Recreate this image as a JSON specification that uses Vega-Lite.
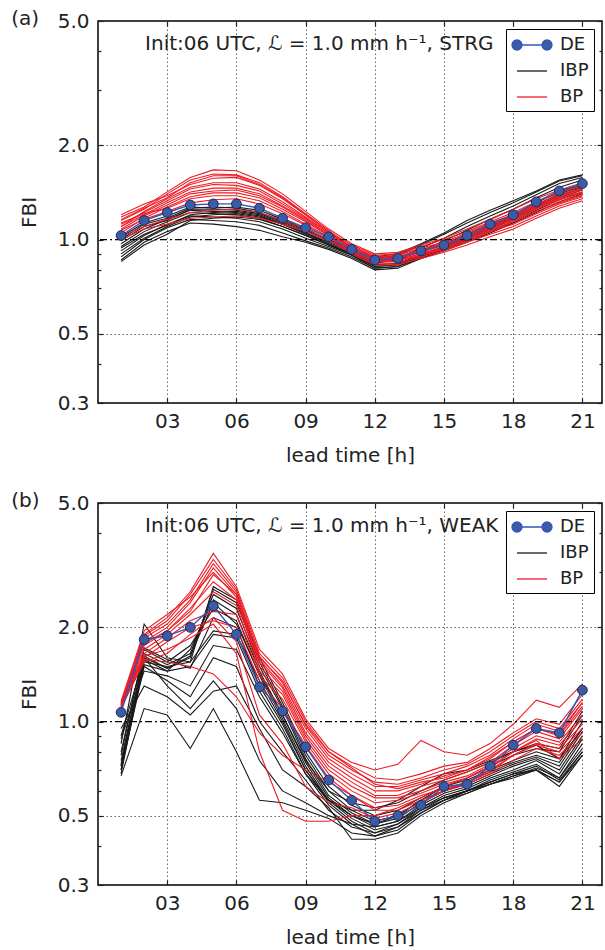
{
"$schema":"https://vega.github.io/schema/vega-lite/v6.json",
"padding":{"top":8,"left":10,"right":0,"bottom":0},
"spacing":24,
"resolve":{"legend":{"color":"independent"}},
"config":{
 "font":"DejaVu Sans",
 "view":{"stroke":"black","strokeWidth":1.5},
 "title":{"font":"DejaVu Sans","fontSize":20,"fontWeight":"normal","color":"#222"},
 "axis":{"labelFont":"DejaVu Sans","labelFontSize":20,"labelColor":"#222","titleFont":"DejaVu Sans","titleFontSize":20,"titleFontWeight":"normal","titleColor":"#222","domain":false,"tickColor":"#222","tickWidth":1.2,"gridColor":"#666","gridDash":[1.5,2.5],"gridWidth":1},
 "legend":{"orient":"top-right","offset":8,"strokeColor":"black","strokeWidth":1,"fillColor":"white","padding":5,"labelFont":"DejaVu Sans","labelFontSize":18,"labelColor":"#222","symbolSize":400,"labelOffset":27,"rowPadding":6,"cornerRadius":0}
},
"datasets":{
"a":[
{"g":"D","s":0,"x":1,"y":1.03},{"g":"D","s":0,"x":2,"y":1.15},{"g":"D","s":0,"x":3,"y":1.22},{"g":"D","s":0,"x":4,"y":1.29},{"g":"D","s":0,"x":5,"y":1.30},{"g":"D","s":0,"x":6,"y":1.30},{"g":"D","s":0,"x":7,"y":1.26},{"g":"D","s":0,"x":8,"y":1.17},{"g":"D","s":0,"x":9,"y":1.09},{"g":"D","s":0,"x":10,"y":1.02},{"g":"D","s":0,"x":11,"y":0.93},{"g":"D","s":0,"x":12,"y":0.86},{"g":"D","s":0,"x":13,"y":0.87},{"g":"D","s":0,"x":14,"y":0.92},{"g":"D","s":0,"x":15,"y":0.96},{"g":"D","s":0,"x":16,"y":1.03},{"g":"D","s":0,"x":17,"y":1.12},{"g":"D","s":0,"x":18,"y":1.20},{"g":"D","s":0,"x":19,"y":1.32},{"g":"D","s":0,"x":20,"y":1.43},{"g":"D","s":0,"x":21,"y":1.51},
{"g":"I","s":1,"x":1,"y":0.86},{"g":"I","s":1,"x":2,"y":0.98},{"g":"I","s":1,"x":3,"y":1.06},{"g":"I","s":1,"x":4,"y":1.13},{"g":"I","s":1,"x":5,"y":1.12},{"g":"I","s":1,"x":6,"y":1.10},{"g":"I","s":1,"x":7,"y":1.07},{"g":"I","s":1,"x":8,"y":1.02},{"g":"I","s":1,"x":9,"y":0.98},{"g":"I","s":1,"x":10,"y":0.93},{"g":"I","s":1,"x":11,"y":0.87},{"g":"I","s":1,"x":12,"y":0.80},{"g":"I","s":1,"x":13,"y":0.81},{"g":"I","s":1,"x":14,"y":0.87},{"g":"I","s":1,"x":15,"y":0.93},{"g":"I","s":1,"x":16,"y":1.00},{"g":"I","s":1,"x":17,"y":1.08},{"g":"I","s":1,"x":18,"y":1.16},{"g":"I","s":1,"x":19,"y":1.26},{"g":"I","s":1,"x":20,"y":1.36},{"g":"I","s":1,"x":21,"y":1.44},
{"g":"I","s":2,"x":1,"y":0.88},{"g":"I","s":2,"x":2,"y":1.00},{"g":"I","s":2,"x":3,"y":1.09},{"g":"I","s":2,"x":4,"y":1.16},{"g":"I","s":2,"x":5,"y":1.15},{"g":"I","s":2,"x":6,"y":1.14},{"g":"I","s":2,"x":7,"y":1.11},{"g":"I","s":2,"x":8,"y":1.05},{"g":"I","s":2,"x":9,"y":0.99},{"g":"I","s":2,"x":10,"y":0.94},{"g":"I","s":2,"x":11,"y":0.88},{"g":"I","s":2,"x":12,"y":0.81},{"g":"I","s":2,"x":13,"y":0.82},{"g":"I","s":2,"x":14,"y":0.88},{"g":"I","s":2,"x":15,"y":0.94},{"g":"I","s":2,"x":16,"y":1.01},{"g":"I","s":2,"x":17,"y":1.09},{"g":"I","s":2,"x":18,"y":1.17},{"g":"I","s":2,"x":19,"y":1.27},{"g":"I","s":2,"x":20,"y":1.38},{"g":"I","s":2,"x":21,"y":1.46},
{"g":"I","s":3,"x":1,"y":0.92},{"g":"I","s":3,"x":2,"y":1.03},{"g":"I","s":3,"x":3,"y":1.12},{"g":"I","s":3,"x":4,"y":1.19},{"g":"I","s":3,"x":5,"y":1.18},{"g":"I","s":3,"x":6,"y":1.17},{"g":"I","s":3,"x":7,"y":1.14},{"g":"I","s":3,"x":8,"y":1.08},{"g":"I","s":3,"x":9,"y":1.01},{"g":"I","s":3,"x":10,"y":0.95},{"g":"I","s":3,"x":11,"y":0.89},{"g":"I","s":3,"x":12,"y":0.82},{"g":"I","s":3,"x":13,"y":0.83},{"g":"I","s":3,"x":14,"y":0.89},{"g":"I","s":3,"x":15,"y":0.95},{"g":"I","s":3,"x":16,"y":1.03},{"g":"I","s":3,"x":17,"y":1.11},{"g":"I","s":3,"x":18,"y":1.19},{"g":"I","s":3,"x":19,"y":1.29},{"g":"I","s":3,"x":20,"y":1.40},{"g":"I","s":3,"x":21,"y":1.48},
{"g":"I","s":4,"x":1,"y":0.95},{"g":"I","s":4,"x":2,"y":1.06},{"g":"I","s":4,"x":3,"y":1.14},{"g":"I","s":4,"x":4,"y":1.22},{"g":"I","s":4,"x":5,"y":1.21},{"g":"I","s":4,"x":6,"y":1.20},{"g":"I","s":4,"x":7,"y":1.17},{"g":"I","s":4,"x":8,"y":1.10},{"g":"I","s":4,"x":9,"y":1.03},{"g":"I","s":4,"x":10,"y":0.96},{"g":"I","s":4,"x":11,"y":0.90},{"g":"I","s":4,"x":12,"y":0.84},{"g":"I","s":4,"x":13,"y":0.86},{"g":"I","s":4,"x":14,"y":0.92},{"g":"I","s":4,"x":15,"y":0.99},{"g":"I","s":4,"x":16,"y":1.07},{"g":"I","s":4,"x":17,"y":1.16},{"g":"I","s":4,"x":18,"y":1.25},{"g":"I","s":4,"x":19,"y":1.36},{"g":"I","s":4,"x":20,"y":1.47},{"g":"I","s":4,"x":21,"y":1.55},
{"g":"I","s":5,"x":1,"y":0.97},{"g":"I","s":5,"x":2,"y":1.08},{"g":"I","s":5,"x":3,"y":1.16},{"g":"I","s":5,"x":4,"y":1.24},{"g":"I","s":5,"x":5,"y":1.23},{"g":"I","s":5,"x":6,"y":1.22},{"g":"I","s":5,"x":7,"y":1.19},{"g":"I","s":5,"x":8,"y":1.12},{"g":"I","s":5,"x":9,"y":1.05},{"g":"I","s":5,"x":10,"y":0.98},{"g":"I","s":5,"x":11,"y":0.91},{"g":"I","s":5,"x":12,"y":0.85},{"g":"I","s":5,"x":13,"y":0.87},{"g":"I","s":5,"x":14,"y":0.94},{"g":"I","s":5,"x":15,"y":1.01},{"g":"I","s":5,"x":16,"y":1.10},{"g":"I","s":5,"x":17,"y":1.19},{"g":"I","s":5,"x":18,"y":1.28},{"g":"I","s":5,"x":19,"y":1.39},{"g":"I","s":5,"x":20,"y":1.51},{"g":"I","s":5,"x":21,"y":1.58},
{"g":"I","s":6,"x":1,"y":0.99},{"g":"I","s":6,"x":2,"y":1.10},{"g":"I","s":6,"x":3,"y":1.15},{"g":"I","s":6,"x":4,"y":1.25},{"g":"I","s":6,"x":5,"y":1.25},{"g":"I","s":6,"x":6,"y":1.24},{"g":"I","s":6,"x":7,"y":1.21},{"g":"I","s":6,"x":8,"y":1.14},{"g":"I","s":6,"x":9,"y":1.06},{"g":"I","s":6,"x":10,"y":0.99},{"g":"I","s":6,"x":11,"y":0.92},{"g":"I","s":6,"x":12,"y":0.87},{"g":"I","s":6,"x":13,"y":0.89},{"g":"I","s":6,"x":14,"y":0.96},{"g":"I","s":6,"x":15,"y":1.04},{"g":"I","s":6,"x":16,"y":1.13},{"g":"I","s":6,"x":17,"y":1.22},{"g":"I","s":6,"x":18,"y":1.31},{"g":"I","s":6,"x":19,"y":1.42},{"g":"I","s":6,"x":20,"y":1.54},{"g":"I","s":6,"x":21,"y":1.60},
{"g":"I","s":7,"x":1,"y":1.00},{"g":"I","s":7,"x":2,"y":1.12},{"g":"I","s":7,"x":3,"y":1.17},{"g":"I","s":7,"x":4,"y":1.26},{"g":"I","s":7,"x":5,"y":1.27},{"g":"I","s":7,"x":6,"y":1.26},{"g":"I","s":7,"x":7,"y":1.22},{"g":"I","s":7,"x":8,"y":1.15},{"g":"I","s":7,"x":9,"y":1.07},{"g":"I","s":7,"x":10,"y":1.00},{"g":"I","s":7,"x":11,"y":0.93},{"g":"I","s":7,"x":12,"y":0.88},{"g":"I","s":7,"x":13,"y":0.90},{"g":"I","s":7,"x":14,"y":0.97},{"g":"I","s":7,"x":15,"y":1.05},{"g":"I","s":7,"x":16,"y":1.15},{"g":"I","s":7,"x":17,"y":1.24},{"g":"I","s":7,"x":18,"y":1.33},{"g":"I","s":7,"x":19,"y":1.43},{"g":"I","s":7,"x":20,"y":1.55},{"g":"I","s":7,"x":21,"y":1.61},
{"g":"I","s":8,"x":1,"y":0.90},{"g":"I","s":8,"x":2,"y":1.01},{"g":"I","s":8,"x":3,"y":1.10},{"g":"I","s":8,"x":4,"y":1.18},{"g":"I","s":8,"x":5,"y":1.20},{"g":"I","s":8,"x":6,"y":1.21},{"g":"I","s":8,"x":7,"y":1.18},{"g":"I","s":8,"x":8,"y":1.12},{"g":"I","s":8,"x":9,"y":1.04},{"g":"I","s":8,"x":10,"y":0.97},{"g":"I","s":8,"x":11,"y":0.90},{"g":"I","s":8,"x":12,"y":0.83},{"g":"I","s":8,"x":13,"y":0.84},{"g":"I","s":8,"x":14,"y":0.89},{"g":"I","s":8,"x":15,"y":0.95},{"g":"I","s":8,"x":16,"y":1.02},{"g":"I","s":8,"x":17,"y":1.10},{"g":"I","s":8,"x":18,"y":1.18},{"g":"I","s":8,"x":19,"y":1.28},{"g":"I","s":8,"x":20,"y":1.38},{"g":"I","s":8,"x":21,"y":1.47},
{"g":"I","s":9,"x":1,"y":1.02},{"g":"I","s":9,"x":2,"y":1.13},{"g":"I","s":9,"x":3,"y":1.19},{"g":"I","s":9,"x":4,"y":1.27},{"g":"I","s":9,"x":5,"y":1.26},{"g":"I","s":9,"x":6,"y":1.27},{"g":"I","s":9,"x":7,"y":1.24},{"g":"I","s":9,"x":8,"y":1.16},{"g":"I","s":9,"x":9,"y":1.08},{"g":"I","s":9,"x":10,"y":1.00},{"g":"I","s":9,"x":11,"y":0.92},{"g":"I","s":9,"x":12,"y":0.86},{"g":"I","s":9,"x":13,"y":0.87},{"g":"I","s":9,"x":14,"y":0.92},{"g":"I","s":9,"x":15,"y":0.97},{"g":"I","s":9,"x":16,"y":1.04},{"g":"I","s":9,"x":17,"y":1.12},{"g":"I","s":9,"x":18,"y":1.20},{"g":"I","s":9,"x":19,"y":1.31},{"g":"I","s":9,"x":20,"y":1.42},{"g":"I","s":9,"x":21,"y":1.50},
{"g":"I","s":10,"x":1,"y":0.94},{"g":"I","s":10,"x":2,"y":1.04},{"g":"I","s":10,"x":3,"y":1.11},{"g":"I","s":10,"x":4,"y":1.20},{"g":"I","s":10,"x":5,"y":1.22},{"g":"I","s":10,"x":6,"y":1.23},{"g":"I","s":10,"x":7,"y":1.20},{"g":"I","s":10,"x":8,"y":1.13},{"g":"I","s":10,"x":9,"y":1.05},{"g":"I","s":10,"x":10,"y":0.97},{"g":"I","s":10,"x":11,"y":0.90},{"g":"I","s":10,"x":12,"y":0.82},{"g":"I","s":10,"x":13,"y":0.83},{"g":"I","s":10,"x":14,"y":0.88},{"g":"I","s":10,"x":15,"y":0.93},{"g":"I","s":10,"x":16,"y":0.99},{"g":"I","s":10,"x":17,"y":1.06},{"g":"I","s":10,"x":18,"y":1.14},{"g":"I","s":10,"x":19,"y":1.24},{"g":"I","s":10,"x":20,"y":1.34},{"g":"I","s":10,"x":21,"y":1.42},
{"g":"I","s":11,"x":1,"y":0.85},{"g":"I","s":11,"x":2,"y":0.96},{"g":"I","s":11,"x":3,"y":1.04},{"g":"I","s":11,"x":4,"y":1.15},{"g":"I","s":11,"x":5,"y":1.17},{"g":"I","s":11,"x":6,"y":1.18},{"g":"I","s":11,"x":7,"y":1.16},{"g":"I","s":11,"x":8,"y":1.10},{"g":"I","s":11,"x":9,"y":1.03},{"g":"I","s":11,"x":10,"y":0.96},{"g":"I","s":11,"x":11,"y":0.89},{"g":"I","s":11,"x":12,"y":0.81},{"g":"I","s":11,"x":13,"y":0.82},{"g":"I","s":11,"x":14,"y":0.87},{"g":"I","s":11,"x":15,"y":0.92},{"g":"I","s":11,"x":16,"y":0.98},{"g":"I","s":11,"x":17,"y":1.05},{"g":"I","s":11,"x":18,"y":1.13},{"g":"I","s":11,"x":19,"y":1.22},{"g":"I","s":11,"x":20,"y":1.32},{"g":"I","s":11,"x":21,"y":1.40},
{"g":"B","s":21,"x":1,"y":1.18},{"g":"B","s":21,"x":2,"y":1.27},{"g":"B","s":21,"x":3,"y":1.42},{"g":"B","s":21,"x":4,"y":1.58},{"g":"B","s":21,"x":5,"y":1.67},{"g":"B","s":21,"x":6,"y":1.66},{"g":"B","s":21,"x":7,"y":1.55},{"g":"B","s":21,"x":8,"y":1.40},{"g":"B","s":21,"x":9,"y":1.23},{"g":"B","s":21,"x":10,"y":1.08},{"g":"B","s":21,"x":11,"y":0.97},{"g":"B","s":21,"x":12,"y":0.90},{"g":"B","s":21,"x":13,"y":0.91},{"g":"B","s":21,"x":14,"y":0.96},{"g":"B","s":21,"x":15,"y":1.01},{"g":"B","s":21,"x":16,"y":1.08},{"g":"B","s":21,"x":17,"y":1.16},{"g":"B","s":21,"x":18,"y":1.25},{"g":"B","s":21,"x":19,"y":1.35},{"g":"B","s":21,"x":20,"y":1.44},{"g":"B","s":21,"x":21,"y":1.52},
{"g":"B","s":22,"x":1,"y":1.15},{"g":"B","s":22,"x":2,"y":1.25},{"g":"B","s":22,"x":3,"y":1.40},{"g":"B","s":22,"x":4,"y":1.55},{"g":"B","s":22,"x":5,"y":1.62},{"g":"B","s":22,"x":6,"y":1.61},{"g":"B","s":22,"x":7,"y":1.52},{"g":"B","s":22,"x":8,"y":1.37},{"g":"B","s":22,"x":9,"y":1.21},{"g":"B","s":22,"x":10,"y":1.07},{"g":"B","s":22,"x":11,"y":0.94},{"g":"B","s":22,"x":12,"y":0.87},{"g":"B","s":22,"x":13,"y":0.88},{"g":"B","s":22,"x":14,"y":0.92},{"g":"B","s":22,"x":15,"y":0.97},{"g":"B","s":22,"x":16,"y":1.03},{"g":"B","s":22,"x":17,"y":1.11},{"g":"B","s":22,"x":18,"y":1.18},{"g":"B","s":22,"x":19,"y":1.28},{"g":"B","s":22,"x":20,"y":1.37},{"g":"B","s":22,"x":21,"y":1.44},
{"g":"B","s":23,"x":1,"y":1.20},{"g":"B","s":23,"x":2,"y":1.30},{"g":"B","s":23,"x":3,"y":1.38},{"g":"B","s":23,"x":4,"y":1.50},{"g":"B","s":23,"x":5,"y":1.57},{"g":"B","s":23,"x":6,"y":1.58},{"g":"B","s":23,"x":7,"y":1.49},{"g":"B","s":23,"x":8,"y":1.35},{"g":"B","s":23,"x":9,"y":1.20},{"g":"B","s":23,"x":10,"y":1.06},{"g":"B","s":23,"x":11,"y":0.96},{"g":"B","s":23,"x":12,"y":0.89},{"g":"B","s":23,"x":13,"y":0.90},{"g":"B","s":23,"x":14,"y":0.95},{"g":"B","s":23,"x":15,"y":1.00},{"g":"B","s":23,"x":16,"y":1.06},{"g":"B","s":23,"x":17,"y":1.14},{"g":"B","s":23,"x":18,"y":1.22},{"g":"B","s":23,"x":19,"y":1.32},{"g":"B","s":23,"x":20,"y":1.41},{"g":"B","s":23,"x":21,"y":1.49},
{"g":"B","s":24,"x":1,"y":1.12},{"g":"B","s":24,"x":2,"y":1.22},{"g":"B","s":24,"x":3,"y":1.33},{"g":"B","s":24,"x":4,"y":1.45},{"g":"B","s":24,"x":5,"y":1.50},{"g":"B","s":24,"x":6,"y":1.49},{"g":"B","s":24,"x":7,"y":1.43},{"g":"B","s":24,"x":8,"y":1.30},{"g":"B","s":24,"x":9,"y":1.17},{"g":"B","s":24,"x":10,"y":1.05},{"g":"B","s":24,"x":11,"y":0.93},{"g":"B","s":24,"x":12,"y":0.85},{"g":"B","s":24,"x":13,"y":0.86},{"g":"B","s":24,"x":14,"y":0.89},{"g":"B","s":24,"x":15,"y":0.94},{"g":"B","s":24,"x":16,"y":1.00},{"g":"B","s":24,"x":17,"y":1.07},{"g":"B","s":24,"x":18,"y":1.14},{"g":"B","s":24,"x":19,"y":1.23},{"g":"B","s":24,"x":20,"y":1.32},{"g":"B","s":24,"x":21,"y":1.39},
{"g":"B","s":25,"x":1,"y":1.10},{"g":"B","s":25,"x":2,"y":1.20},{"g":"B","s":25,"x":3,"y":1.31},{"g":"B","s":25,"x":4,"y":1.42},{"g":"B","s":25,"x":5,"y":1.46},{"g":"B","s":25,"x":6,"y":1.46},{"g":"B","s":25,"x":7,"y":1.40},{"g":"B","s":25,"x":8,"y":1.28},{"g":"B","s":25,"x":9,"y":1.16},{"g":"B","s":25,"x":10,"y":1.04},{"g":"B","s":25,"x":11,"y":0.95},{"g":"B","s":25,"x":12,"y":0.88},{"g":"B","s":25,"x":13,"y":0.89},{"g":"B","s":25,"x":14,"y":0.94},{"g":"B","s":25,"x":15,"y":0.98},{"g":"B","s":25,"x":16,"y":1.05},{"g":"B","s":25,"x":17,"y":1.13},{"g":"B","s":25,"x":18,"y":1.20},{"g":"B","s":25,"x":19,"y":1.30},{"g":"B","s":25,"x":20,"y":1.39},{"g":"B","s":25,"x":21,"y":1.46},
{"g":"B","s":26,"x":1,"y":1.08},{"g":"B","s":26,"x":2,"y":1.19},{"g":"B","s":26,"x":3,"y":1.29},{"g":"B","s":26,"x":4,"y":1.40},{"g":"B","s":26,"x":5,"y":1.43},{"g":"B","s":26,"x":6,"y":1.44},{"g":"B","s":26,"x":7,"y":1.38},{"g":"B","s":26,"x":8,"y":1.27},{"g":"B","s":26,"x":9,"y":1.15},{"g":"B","s":26,"x":10,"y":1.03},{"g":"B","s":26,"x":11,"y":0.91},{"g":"B","s":26,"x":12,"y":0.84},{"g":"B","s":26,"x":13,"y":0.84},{"g":"B","s":26,"x":14,"y":0.88},{"g":"B","s":26,"x":15,"y":0.92},{"g":"B","s":26,"x":16,"y":0.98},{"g":"B","s":26,"x":17,"y":1.04},{"g":"B","s":26,"x":18,"y":1.10},{"g":"B","s":26,"x":19,"y":1.19},{"g":"B","s":26,"x":20,"y":1.28},{"g":"B","s":26,"x":21,"y":1.35},
{"g":"B","s":27,"x":1,"y":1.05},{"g":"B","s":27,"x":2,"y":1.17},{"g":"B","s":27,"x":3,"y":1.27},{"g":"B","s":27,"x":4,"y":1.37},{"g":"B","s":27,"x":5,"y":1.41},{"g":"B","s":27,"x":6,"y":1.41},{"g":"B","s":27,"x":7,"y":1.36},{"g":"B","s":27,"x":8,"y":1.25},{"g":"B","s":27,"x":9,"y":1.14},{"g":"B","s":27,"x":10,"y":1.03},{"g":"B","s":27,"x":11,"y":0.94},{"g":"B","s":27,"x":12,"y":0.87},{"g":"B","s":27,"x":13,"y":0.87},{"g":"B","s":27,"x":14,"y":0.91},{"g":"B","s":27,"x":15,"y":0.96},{"g":"B","s":27,"x":16,"y":1.02},{"g":"B","s":27,"x":17,"y":1.10},{"g":"B","s":27,"x":18,"y":1.17},{"g":"B","s":27,"x":19,"y":1.27},{"g":"B","s":27,"x":20,"y":1.36},{"g":"B","s":27,"x":21,"y":1.42},
{"g":"B","s":28,"x":1,"y":1.13},{"g":"B","s":28,"x":2,"y":1.21},{"g":"B","s":28,"x":3,"y":1.26},{"g":"B","s":28,"x":4,"y":1.35},{"g":"B","s":28,"x":5,"y":1.38},{"g":"B","s":28,"x":6,"y":1.38},{"g":"B","s":28,"x":7,"y":1.33},{"g":"B","s":28,"x":8,"y":1.23},{"g":"B","s":28,"x":9,"y":1.12},{"g":"B","s":28,"x":10,"y":1.02},{"g":"B","s":28,"x":11,"y":0.93},{"g":"B","s":28,"x":12,"y":0.86},{"g":"B","s":28,"x":13,"y":0.86},{"g":"B","s":28,"x":14,"y":0.90},{"g":"B","s":28,"x":15,"y":0.95},{"g":"B","s":28,"x":16,"y":1.01},{"g":"B","s":28,"x":17,"y":1.08},{"g":"B","s":28,"x":18,"y":1.15},{"g":"B","s":28,"x":19,"y":1.25},{"g":"B","s":28,"x":20,"y":1.34},{"g":"B","s":28,"x":21,"y":1.41},
{"g":"B","s":29,"x":1,"y":1.07},{"g":"B","s":29,"x":2,"y":1.16},{"g":"B","s":29,"x":3,"y":1.23},{"g":"B","s":29,"x":4,"y":1.31},{"g":"B","s":29,"x":5,"y":1.34},{"g":"B","s":29,"x":6,"y":1.35},{"g":"B","s":29,"x":7,"y":1.30},{"g":"B","s":29,"x":8,"y":1.21},{"g":"B","s":29,"x":9,"y":1.11},{"g":"B","s":29,"x":10,"y":1.01},{"g":"B","s":29,"x":11,"y":0.92},{"g":"B","s":29,"x":12,"y":0.85},{"g":"B","s":29,"x":13,"y":0.85},{"g":"B","s":29,"x":14,"y":0.89},{"g":"B","s":29,"x":15,"y":0.93},{"g":"B","s":29,"x":16,"y":0.99},{"g":"B","s":29,"x":17,"y":1.06},{"g":"B","s":29,"x":18,"y":1.12},{"g":"B","s":29,"x":19,"y":1.21},{"g":"B","s":29,"x":20,"y":1.30},{"g":"B","s":29,"x":21,"y":1.37},
{"g":"B","s":30,"x":1,"y":1.02},{"g":"B","s":30,"x":2,"y":1.10},{"g":"B","s":30,"x":3,"y":1.16},{"g":"B","s":30,"x":4,"y":1.22},{"g":"B","s":30,"x":5,"y":1.24},{"g":"B","s":30,"x":6,"y":1.25},{"g":"B","s":30,"x":7,"y":1.22},{"g":"B","s":30,"x":8,"y":1.15},{"g":"B","s":30,"x":9,"y":1.08},{"g":"B","s":30,"x":10,"y":1.00},{"g":"B","s":30,"x":11,"y":0.90},{"g":"B","s":30,"x":12,"y":0.83},{"g":"B","s":30,"x":13,"y":0.83},{"g":"B","s":30,"x":14,"y":0.87},{"g":"B","s":30,"x":15,"y":0.91},{"g":"B","s":30,"x":16,"y":0.96},{"g":"B","s":30,"x":17,"y":1.02},{"g":"B","s":30,"x":18,"y":1.08},{"g":"B","s":30,"x":19,"y":1.17},{"g":"B","s":30,"x":20,"y":1.26},{"g":"B","s":30,"x":21,"y":1.33},
{"g":"B","s":31,"x":1,"y":1.00},{"g":"B","s":31,"x":2,"y":1.08},{"g":"B","s":31,"x":3,"y":1.12},{"g":"B","s":31,"x":4,"y":1.17},{"g":"B","s":31,"x":5,"y":1.18},{"g":"B","s":31,"x":6,"y":1.19},{"g":"B","s":31,"x":7,"y":1.17},{"g":"B","s":31,"x":8,"y":1.12},{"g":"B","s":31,"x":9,"y":1.06},{"g":"B","s":31,"x":10,"y":0.99},{"g":"B","s":31,"x":11,"y":0.92},{"g":"B","s":31,"x":12,"y":0.86},{"g":"B","s":31,"x":13,"y":0.86},{"g":"B","s":31,"x":14,"y":0.90},{"g":"B","s":31,"x":15,"y":0.94},{"g":"B","s":31,"x":16,"y":1.00},{"g":"B","s":31,"x":17,"y":1.07},{"g":"B","s":31,"x":18,"y":1.14},{"g":"B","s":31,"x":19,"y":1.23},{"g":"B","s":31,"x":20,"y":1.31},{"g":"B","s":31,"x":21,"y":1.38},
{"g":"B","s":32,"x":1,"y":1.10},{"g":"B","s":32,"x":2,"y":1.23},{"g":"B","s":32,"x":3,"y":1.35},{"g":"B","s":32,"x":4,"y":1.47},{"g":"B","s":32,"x":5,"y":1.52},{"g":"B","s":32,"x":6,"y":1.52},{"g":"B","s":32,"x":7,"y":1.45},{"g":"B","s":32,"x":8,"y":1.32},{"g":"B","s":32,"x":9,"y":1.18},{"g":"B","s":32,"x":10,"y":1.05},{"g":"B","s":32,"x":11,"y":0.95},{"g":"B","s":32,"x":12,"y":0.88},{"g":"B","s":32,"x":13,"y":0.88},{"g":"B","s":32,"x":14,"y":0.93},{"g":"B","s":32,"x":15,"y":0.97},{"g":"B","s":32,"x":16,"y":1.04},{"g":"B","s":32,"x":17,"y":1.12},{"g":"B","s":32,"x":18,"y":1.19},{"g":"B","s":32,"x":19,"y":1.29},{"g":"B","s":32,"x":20,"y":1.38},{"g":"B","s":32,"x":21,"y":1.45},
{"g":"B","s":33,"x":1,"y":1.16},{"g":"B","s":33,"x":2,"y":1.26},{"g":"B","s":33,"x":3,"y":1.36},{"g":"B","s":33,"x":4,"y":1.52},{"g":"B","s":33,"x":5,"y":1.60},{"g":"B","s":33,"x":6,"y":1.60},{"g":"B","s":33,"x":7,"y":1.50},{"g":"B","s":33,"x":8,"y":1.36},{"g":"B","s":33,"x":9,"y":1.20},{"g":"B","s":33,"x":10,"y":1.06},{"g":"B","s":33,"x":11,"y":0.94},{"g":"B","s":33,"x":12,"y":0.86},{"g":"B","s":33,"x":13,"y":0.87},{"g":"B","s":33,"x":14,"y":0.91},{"g":"B","s":33,"x":15,"y":0.96},{"g":"B","s":33,"x":16,"y":1.02},{"g":"B","s":33,"x":17,"y":1.09},{"g":"B","s":33,"x":18,"y":1.16},{"g":"B","s":33,"x":19,"y":1.26},{"g":"B","s":33,"x":20,"y":1.35},{"g":"B","s":33,"x":21,"y":1.42}
],
"b":[
{"g":"D","s":0,"x":1,"y":1.07},{"g":"D","s":0,"x":2,"y":1.83},{"g":"D","s":0,"x":3,"y":1.88},{"g":"D","s":0,"x":4,"y":2.00},{"g":"D","s":0,"x":5,"y":2.34},{"g":"D","s":0,"x":6,"y":1.90},{"g":"D","s":0,"x":7,"y":1.29},{"g":"D","s":0,"x":8,"y":1.08},{"g":"D","s":0,"x":9,"y":0.83},{"g":"D","s":0,"x":10,"y":0.65},{"g":"D","s":0,"x":11,"y":0.56},{"g":"D","s":0,"x":12,"y":0.48},{"g":"D","s":0,"x":13,"y":0.50},{"g":"D","s":0,"x":14,"y":0.54},{"g":"D","s":0,"x":15,"y":0.62},{"g":"D","s":0,"x":16,"y":0.63},{"g":"D","s":0,"x":17,"y":0.72},{"g":"D","s":0,"x":18,"y":0.84},{"g":"D","s":0,"x":19,"y":0.95},{"g":"D","s":0,"x":20,"y":0.92},{"g":"D","s":0,"x":21,"y":1.26},
{"g":"I","s":1,"x":1,"y":0.70},{"g":"I","s":1,"x":2,"y":1.55},{"g":"I","s":1,"x":3,"y":1.50},{"g":"I","s":1,"x":4,"y":1.55},{"g":"I","s":1,"x":5,"y":2.70},{"g":"I","s":1,"x":6,"y":2.45},{"g":"I","s":1,"x":7,"y":1.60},{"g":"I","s":1,"x":8,"y":1.15},{"g":"I","s":1,"x":9,"y":0.80},{"g":"I","s":1,"x":10,"y":0.62},{"g":"I","s":1,"x":11,"y":0.54},{"g":"I","s":1,"x":12,"y":0.50},{"g":"I","s":1,"x":13,"y":0.52},{"g":"I","s":1,"x":14,"y":0.57},{"g":"I","s":1,"x":15,"y":0.62},{"g":"I","s":1,"x":16,"y":0.65},{"g":"I","s":1,"x":17,"y":0.70},{"g":"I","s":1,"x":18,"y":0.75},{"g":"I","s":1,"x":19,"y":0.80},{"g":"I","s":1,"x":20,"y":0.76},{"g":"I","s":1,"x":21,"y":1.00},
{"g":"I","s":2,"x":1,"y":0.72},{"g":"I","s":2,"x":2,"y":1.60},{"g":"I","s":2,"x":3,"y":1.48},{"g":"I","s":2,"x":4,"y":1.60},{"g":"I","s":2,"x":5,"y":2.65},{"g":"I","s":2,"x":6,"y":2.40},{"g":"I","s":2,"x":7,"y":1.55},{"g":"I","s":2,"x":8,"y":1.12},{"g":"I","s":2,"x":9,"y":0.78},{"g":"I","s":2,"x":10,"y":0.60},{"g":"I","s":2,"x":11,"y":0.52},{"g":"I","s":2,"x":12,"y":0.48},{"g":"I","s":2,"x":13,"y":0.50},{"g":"I","s":2,"x":14,"y":0.56},{"g":"I","s":2,"x":15,"y":0.60},{"g":"I","s":2,"x":16,"y":0.64},{"g":"I","s":2,"x":17,"y":0.69},{"g":"I","s":2,"x":18,"y":0.74},{"g":"I","s":2,"x":19,"y":0.78},{"g":"I","s":2,"x":20,"y":0.74},{"g":"I","s":2,"x":21,"y":0.95},
{"g":"I","s":3,"x":1,"y":0.75},{"g":"I","s":3,"x":2,"y":1.65},{"g":"I","s":3,"x":3,"y":1.52},{"g":"I","s":3,"x":4,"y":1.65},{"g":"I","s":3,"x":5,"y":2.55},{"g":"I","s":3,"x":6,"y":2.30},{"g":"I","s":3,"x":7,"y":1.50},{"g":"I","s":3,"x":8,"y":1.10},{"g":"I","s":3,"x":9,"y":0.76},{"g":"I","s":3,"x":10,"y":0.58},{"g":"I","s":3,"x":11,"y":0.51},{"g":"I","s":3,"x":12,"y":0.47},{"g":"I","s":3,"x":13,"y":0.49},{"g":"I","s":3,"x":14,"y":0.55},{"g":"I","s":3,"x":15,"y":0.60},{"g":"I","s":3,"x":16,"y":0.63},{"g":"I","s":3,"x":17,"y":0.68},{"g":"I","s":3,"x":18,"y":0.73},{"g":"I","s":3,"x":19,"y":0.77},{"g":"I","s":3,"x":20,"y":0.72},{"g":"I","s":3,"x":21,"y":0.93},
{"g":"I","s":4,"x":1,"y":0.68},{"g":"I","s":4,"x":2,"y":1.58},{"g":"I","s":4,"x":3,"y":1.45},{"g":"I","s":4,"x":4,"y":1.70},{"g":"I","s":4,"x":5,"y":2.45},{"g":"I","s":4,"x":6,"y":2.20},{"g":"I","s":4,"x":7,"y":1.45},{"g":"I","s":4,"x":8,"y":1.05},{"g":"I","s":4,"x":9,"y":0.74},{"g":"I","s":4,"x":10,"y":0.57},{"g":"I","s":4,"x":11,"y":0.50},{"g":"I","s":4,"x":12,"y":0.46},{"g":"I","s":4,"x":13,"y":0.48},{"g":"I","s":4,"x":14,"y":0.54},{"g":"I","s":4,"x":15,"y":0.59},{"g":"I","s":4,"x":16,"y":0.62},{"g":"I","s":4,"x":17,"y":0.67},{"g":"I","s":4,"x":18,"y":0.72},{"g":"I","s":4,"x":19,"y":0.76},{"g":"I","s":4,"x":20,"y":0.70},{"g":"I","s":4,"x":21,"y":0.90},
{"g":"I","s":5,"x":1,"y":0.80},{"g":"I","s":5,"x":2,"y":1.70},{"g":"I","s":5,"x":3,"y":1.55},{"g":"I","s":5,"x":4,"y":1.75},{"g":"I","s":5,"x":5,"y":2.30},{"g":"I","s":5,"x":6,"y":2.10},{"g":"I","s":5,"x":7,"y":1.40},{"g":"I","s":5,"x":8,"y":1.02},{"g":"I","s":5,"x":9,"y":0.72},{"g":"I","s":5,"x":10,"y":0.56},{"g":"I","s":5,"x":11,"y":0.49},{"g":"I","s":5,"x":12,"y":0.45},{"g":"I","s":5,"x":13,"y":0.47},{"g":"I","s":5,"x":14,"y":0.53},{"g":"I","s":5,"x":15,"y":0.58},{"g":"I","s":5,"x":16,"y":0.61},{"g":"I","s":5,"x":17,"y":0.66},{"g":"I","s":5,"x":18,"y":0.70},{"g":"I","s":5,"x":19,"y":0.75},{"g":"I","s":5,"x":20,"y":0.68},{"g":"I","s":5,"x":21,"y":0.88},
{"g":"I","s":6,"x":1,"y":0.85},{"g":"I","s":6,"x":2,"y":2.05},{"g":"I","s":6,"x":3,"y":1.60},{"g":"I","s":6,"x":4,"y":1.55},{"g":"I","s":6,"x":5,"y":1.95},{"g":"I","s":6,"x":6,"y":1.90},{"g":"I","s":6,"x":7,"y":1.35},{"g":"I","s":6,"x":8,"y":1.00},{"g":"I","s":6,"x":9,"y":0.70},{"g":"I","s":6,"x":10,"y":0.55},{"g":"I","s":6,"x":11,"y":0.48},{"g":"I","s":6,"x":12,"y":0.44},{"g":"I","s":6,"x":13,"y":0.46},{"g":"I","s":6,"x":14,"y":0.52},{"g":"I","s":6,"x":15,"y":0.57},{"g":"I","s":6,"x":16,"y":0.60},{"g":"I","s":6,"x":17,"y":0.65},{"g":"I","s":6,"x":18,"y":0.69},{"g":"I","s":6,"x":19,"y":0.73},{"g":"I","s":6,"x":20,"y":0.66},{"g":"I","s":6,"x":21,"y":0.85},
{"g":"I","s":7,"x":1,"y":0.72},{"g":"I","s":7,"x":2,"y":1.52},{"g":"I","s":7,"x":3,"y":1.45},{"g":"I","s":7,"x":4,"y":1.50},{"g":"I","s":7,"x":5,"y":1.90},{"g":"I","s":7,"x":6,"y":1.85},{"g":"I","s":7,"x":7,"y":1.25},{"g":"I","s":7,"x":8,"y":0.95},{"g":"I","s":7,"x":9,"y":0.68},{"g":"I","s":7,"x":10,"y":0.54},{"g":"I","s":7,"x":11,"y":0.47},{"g":"I","s":7,"x":12,"y":0.43},{"g":"I","s":7,"x":13,"y":0.45},{"g":"I","s":7,"x":14,"y":0.51},{"g":"I","s":7,"x":15,"y":0.56},{"g":"I","s":7,"x":16,"y":0.60},{"g":"I","s":7,"x":17,"y":0.64},{"g":"I","s":7,"x":18,"y":0.68},{"g":"I","s":7,"x":19,"y":0.72},{"g":"I","s":7,"x":20,"y":0.65},{"g":"I","s":7,"x":21,"y":0.80},
{"g":"I","s":8,"x":1,"y":0.70},{"g":"I","s":8,"x":2,"y":1.50},{"g":"I","s":8,"x":3,"y":1.35},{"g":"I","s":8,"x":4,"y":1.20},{"g":"I","s":8,"x":5,"y":1.60},{"g":"I","s":8,"x":6,"y":1.50},{"g":"I","s":8,"x":7,"y":1.00},{"g":"I","s":8,"x":8,"y":0.80},{"g":"I","s":8,"x":9,"y":0.65},{"g":"I","s":8,"x":10,"y":0.52},{"g":"I","s":8,"x":11,"y":0.46},{"g":"I","s":8,"x":12,"y":0.44},{"g":"I","s":8,"x":13,"y":0.47},{"g":"I","s":8,"x":14,"y":0.52},{"g":"I","s":8,"x":15,"y":0.56},{"g":"I","s":8,"x":16,"y":0.59},{"g":"I","s":8,"x":17,"y":0.63},{"g":"I","s":8,"x":18,"y":0.67},{"g":"I","s":8,"x":19,"y":0.70},{"g":"I","s":8,"x":20,"y":0.64},{"g":"I","s":8,"x":21,"y":0.78},
{"g":"I","s":9,"x":1,"y":0.90},{"g":"I","s":9,"x":2,"y":1.60},{"g":"I","s":9,"x":3,"y":1.30},{"g":"I","s":9,"x":4,"y":1.10},{"g":"I","s":9,"x":5,"y":1.35},{"g":"I","s":9,"x":6,"y":1.10},{"g":"I","s":9,"x":7,"y":0.75},{"g":"I","s":9,"x":8,"y":0.60},{"g":"I","s":9,"x":9,"y":0.55},{"g":"I","s":9,"x":10,"y":0.50},{"g":"I","s":9,"x":11,"y":0.47},{"g":"I","s":9,"x":12,"y":0.46},{"g":"I","s":9,"x":13,"y":0.48},{"g":"I","s":9,"x":14,"y":0.53},{"g":"I","s":9,"x":15,"y":0.57},{"g":"I","s":9,"x":16,"y":0.60},{"g":"I","s":9,"x":17,"y":0.63},{"g":"I","s":9,"x":18,"y":0.67},{"g":"I","s":9,"x":19,"y":0.71},{"g":"I","s":9,"x":20,"y":0.66},{"g":"I","s":9,"x":21,"y":0.82},
{"g":"I","s":10,"x":1,"y":0.95},{"g":"I","s":10,"x":2,"y":1.30},{"g":"I","s":10,"x":3,"y":1.20},{"g":"I","s":10,"x":4,"y":1.05},{"g":"I","s":10,"x":5,"y":1.25},{"g":"I","s":10,"x":6,"y":1.30},{"g":"I","s":10,"x":7,"y":0.95},{"g":"I","s":10,"x":8,"y":0.70},{"g":"I","s":10,"x":9,"y":0.62},{"g":"I","s":10,"x":10,"y":0.53},{"g":"I","s":10,"x":11,"y":0.42},{"g":"I","s":10,"x":12,"y":0.42},{"g":"I","s":10,"x":13,"y":0.44},{"g":"I","s":10,"x":14,"y":0.50},{"g":"I","s":10,"x":15,"y":0.55},{"g":"I","s":10,"x":16,"y":0.59},{"g":"I","s":10,"x":17,"y":0.63},{"g":"I","s":10,"x":18,"y":0.66},{"g":"I","s":10,"x":19,"y":0.70},{"g":"I","s":10,"x":20,"y":0.64},{"g":"I","s":10,"x":21,"y":0.80},
{"g":"I","s":11,"x":1,"y":0.67},{"g":"I","s":11,"x":2,"y":1.10},{"g":"I","s":11,"x":3,"y":1.05},{"g":"I","s":11,"x":4,"y":0.82},{"g":"I","s":11,"x":5,"y":1.10},{"g":"I","s":11,"x":6,"y":0.80},{"g":"I","s":11,"x":7,"y":0.56},{"g":"I","s":11,"x":8,"y":0.55},{"g":"I","s":11,"x":9,"y":0.52},{"g":"I","s":11,"x":10,"y":0.49},{"g":"I","s":11,"x":11,"y":0.44},{"g":"I","s":11,"x":12,"y":0.43},{"g":"I","s":11,"x":13,"y":0.46},{"g":"I","s":11,"x":14,"y":0.51},{"g":"I","s":11,"x":15,"y":0.56},{"g":"I","s":11,"x":16,"y":0.60},{"g":"I","s":11,"x":17,"y":0.64},{"g":"I","s":11,"x":18,"y":0.68},{"g":"I","s":11,"x":19,"y":0.70},{"g":"I","s":11,"x":20,"y":0.62},{"g":"I","s":11,"x":21,"y":0.78},
{"g":"I","s":12,"x":1,"y":0.78},{"g":"I","s":12,"x":2,"y":1.72},{"g":"I","s":12,"x":3,"y":1.58},{"g":"I","s":12,"x":4,"y":1.48},{"g":"I","s":12,"x":5,"y":2.15},{"g":"I","s":12,"x":6,"y":2.00},{"g":"I","s":12,"x":7,"y":1.30},{"g":"I","s":12,"x":8,"y":0.98},{"g":"I","s":12,"x":9,"y":0.70},{"g":"I","s":12,"x":10,"y":0.56},{"g":"I","s":12,"x":11,"y":0.50},{"g":"I","s":12,"x":12,"y":0.47},{"g":"I","s":12,"x":13,"y":0.50},{"g":"I","s":12,"x":14,"y":0.56},{"g":"I","s":12,"x":15,"y":0.62},{"g":"I","s":12,"x":16,"y":0.66},{"g":"I","s":12,"x":17,"y":0.72},{"g":"I","s":12,"x":18,"y":0.78},{"g":"I","s":12,"x":19,"y":0.82},{"g":"I","s":12,"x":20,"y":0.80},{"g":"I","s":12,"x":21,"y":1.05},
{"g":"I","s":13,"x":1,"y":0.73},{"g":"I","s":13,"x":2,"y":1.62},{"g":"I","s":13,"x":3,"y":1.48},{"g":"I","s":13,"x":4,"y":1.62},{"g":"I","s":13,"x":5,"y":2.40},{"g":"I","s":13,"x":6,"y":2.05},{"g":"I","s":13,"x":7,"y":1.42},{"g":"I","s":13,"x":8,"y":1.05},{"g":"I","s":13,"x":9,"y":0.75},{"g":"I","s":13,"x":10,"y":0.60},{"g":"I","s":13,"x":11,"y":0.55},{"g":"I","s":13,"x":12,"y":0.53},{"g":"I","s":13,"x":13,"y":0.55},{"g":"I","s":13,"x":14,"y":0.60},{"g":"I","s":13,"x":15,"y":0.65},{"g":"I","s":13,"x":16,"y":0.69},{"g":"I","s":13,"x":17,"y":0.74},{"g":"I","s":13,"x":18,"y":0.80},{"g":"I","s":13,"x":19,"y":0.85},{"g":"I","s":13,"x":20,"y":0.82},{"g":"I","s":13,"x":21,"y":1.08},
{"g":"I","s":14,"x":1,"y":0.88},{"g":"I","s":14,"x":2,"y":1.45},{"g":"I","s":14,"x":3,"y":1.40},{"g":"I","s":14,"x":4,"y":1.30},{"g":"I","s":14,"x":5,"y":1.75},{"g":"I","s":14,"x":6,"y":1.70},{"g":"I","s":14,"x":7,"y":1.20},{"g":"I","s":14,"x":8,"y":0.92},{"g":"I","s":14,"x":9,"y":0.68},{"g":"I","s":14,"x":10,"y":0.56},{"g":"I","s":14,"x":11,"y":0.52},{"g":"I","s":14,"x":12,"y":0.52},{"g":"I","s":14,"x":13,"y":0.56},{"g":"I","s":14,"x":14,"y":0.62},{"g":"I","s":14,"x":15,"y":0.68},{"g":"I","s":14,"x":16,"y":0.70},{"g":"I","s":14,"x":17,"y":0.75},{"g":"I","s":14,"x":18,"y":0.80},{"g":"I","s":14,"x":19,"y":0.84},{"g":"I","s":14,"x":20,"y":0.76},{"g":"I","s":14,"x":21,"y":0.95},
{"g":"B","s":21,"x":1,"y":1.15},{"g":"B","s":21,"x":2,"y":1.90},{"g":"B","s":21,"x":3,"y":2.15},{"g":"B","s":21,"x":4,"y":2.60},{"g":"B","s":21,"x":5,"y":3.45},{"g":"B","s":21,"x":6,"y":2.70},{"g":"B","s":21,"x":7,"y":1.70},{"g":"B","s":21,"x":8,"y":1.42},{"g":"B","s":21,"x":9,"y":1.02},{"g":"B","s":21,"x":10,"y":0.82},{"g":"B","s":21,"x":11,"y":0.74},{"g":"B","s":21,"x":12,"y":0.70},{"g":"B","s":21,"x":13,"y":0.73},{"g":"B","s":21,"x":14,"y":0.87},{"g":"B","s":21,"x":15,"y":0.80},{"g":"B","s":21,"x":16,"y":0.78},{"g":"B","s":21,"x":17,"y":0.85},{"g":"B","s":21,"x":18,"y":0.98},{"g":"B","s":21,"x":19,"y":1.17},{"g":"B","s":21,"x":20,"y":1.11},{"g":"B","s":21,"x":21,"y":1.32},
{"g":"B","s":22,"x":1,"y":1.14},{"g":"B","s":22,"x":2,"y":1.88},{"g":"B","s":22,"x":3,"y":2.10},{"g":"B","s":22,"x":4,"y":2.55},{"g":"B","s":22,"x":5,"y":3.30},{"g":"B","s":22,"x":6,"y":2.65},{"g":"B","s":22,"x":7,"y":1.65},{"g":"B","s":22,"x":8,"y":1.38},{"g":"B","s":22,"x":9,"y":1.00},{"g":"B","s":22,"x":10,"y":0.80},{"g":"B","s":22,"x":11,"y":0.72},{"g":"B","s":22,"x":12,"y":0.66},{"g":"B","s":22,"x":13,"y":0.65},{"g":"B","s":22,"x":14,"y":0.68},{"g":"B","s":22,"x":15,"y":0.72},{"g":"B","s":22,"x":16,"y":0.74},{"g":"B","s":22,"x":17,"y":0.82},{"g":"B","s":22,"x":18,"y":0.92},{"g":"B","s":22,"x":19,"y":1.02},{"g":"B","s":22,"x":20,"y":0.98},{"g":"B","s":22,"x":21,"y":1.22},
{"g":"B","s":23,"x":1,"y":1.13},{"g":"B","s":23,"x":2,"y":1.85},{"g":"B","s":23,"x":3,"y":2.05},{"g":"B","s":23,"x":4,"y":2.45},{"g":"B","s":23,"x":5,"y":3.20},{"g":"B","s":23,"x":6,"y":2.60},{"g":"B","s":23,"x":7,"y":1.60},{"g":"B","s":23,"x":8,"y":1.35},{"g":"B","s":23,"x":9,"y":0.97},{"g":"B","s":23,"x":10,"y":0.78},{"g":"B","s":23,"x":11,"y":0.70},{"g":"B","s":23,"x":12,"y":0.64},{"g":"B","s":23,"x":13,"y":0.63},{"g":"B","s":23,"x":14,"y":0.66},{"g":"B","s":23,"x":15,"y":0.70},{"g":"B","s":23,"x":16,"y":0.73},{"g":"B","s":23,"x":17,"y":0.80},{"g":"B","s":23,"x":18,"y":0.90},{"g":"B","s":23,"x":19,"y":1.00},{"g":"B","s":23,"x":20,"y":0.95},{"g":"B","s":23,"x":21,"y":1.18},
{"g":"B","s":24,"x":1,"y":1.12},{"g":"B","s":24,"x":2,"y":1.80},{"g":"B","s":24,"x":3,"y":2.00},{"g":"B","s":24,"x":4,"y":2.40},{"g":"B","s":24,"x":5,"y":3.10},{"g":"B","s":24,"x":6,"y":2.55},{"g":"B","s":24,"x":7,"y":1.58},{"g":"B","s":24,"x":8,"y":1.30},{"g":"B","s":24,"x":9,"y":0.95},{"g":"B","s":24,"x":10,"y":0.76},{"g":"B","s":24,"x":11,"y":0.68},{"g":"B","s":24,"x":12,"y":0.62},{"g":"B","s":24,"x":13,"y":0.62},{"g":"B","s":24,"x":14,"y":0.65},{"g":"B","s":24,"x":15,"y":0.68},{"g":"B","s":24,"x":16,"y":0.72},{"g":"B","s":24,"x":17,"y":0.78},{"g":"B","s":24,"x":18,"y":0.88},{"g":"B","s":24,"x":19,"y":0.98},{"g":"B","s":24,"x":20,"y":0.93},{"g":"B","s":24,"x":21,"y":1.15},
{"g":"B","s":25,"x":1,"y":1.16},{"g":"B","s":25,"x":2,"y":1.95},{"g":"B","s":25,"x":3,"y":2.20},{"g":"B","s":25,"x":4,"y":2.50},{"g":"B","s":25,"x":5,"y":3.00},{"g":"B","s":25,"x":6,"y":2.50},{"g":"B","s":25,"x":7,"y":1.55},{"g":"B","s":25,"x":8,"y":1.28},{"g":"B","s":25,"x":9,"y":0.92},{"g":"B","s":25,"x":10,"y":0.74},{"g":"B","s":25,"x":11,"y":0.66},{"g":"B","s":25,"x":12,"y":0.60},{"g":"B","s":25,"x":13,"y":0.60},{"g":"B","s":25,"x":14,"y":0.63},{"g":"B","s":25,"x":15,"y":0.67},{"g":"B","s":25,"x":16,"y":0.70},{"g":"B","s":25,"x":17,"y":0.76},{"g":"B","s":25,"x":18,"y":0.86},{"g":"B","s":25,"x":19,"y":0.95},{"g":"B","s":25,"x":20,"y":0.90},{"g":"B","s":25,"x":21,"y":1.12},
{"g":"B","s":26,"x":1,"y":1.11},{"g":"B","s":26,"x":2,"y":1.75},{"g":"B","s":26,"x":3,"y":1.95},{"g":"B","s":26,"x":4,"y":2.30},{"g":"B","s":26,"x":5,"y":2.80},{"g":"B","s":26,"x":6,"y":2.45},{"g":"B","s":26,"x":7,"y":1.50},{"g":"B","s":26,"x":8,"y":1.25},{"g":"B","s":26,"x":9,"y":0.90},{"g":"B","s":26,"x":10,"y":0.72},{"g":"B","s":26,"x":11,"y":0.64},{"g":"B","s":26,"x":12,"y":0.58},{"g":"B","s":26,"x":13,"y":0.58},{"g":"B","s":26,"x":14,"y":0.62},{"g":"B","s":26,"x":15,"y":0.65},{"g":"B","s":26,"x":16,"y":0.69},{"g":"B","s":26,"x":17,"y":0.74},{"g":"B","s":26,"x":18,"y":0.84},{"g":"B","s":26,"x":19,"y":0.93},{"g":"B","s":26,"x":20,"y":0.88},{"g":"B","s":26,"x":21,"y":1.10},
{"g":"B","s":27,"x":1,"y":1.10},{"g":"B","s":27,"x":2,"y":1.70},{"g":"B","s":27,"x":3,"y":1.90},{"g":"B","s":27,"x":4,"y":2.20},{"g":"B","s":27,"x":5,"y":2.60},{"g":"B","s":27,"x":6,"y":2.35},{"g":"B","s":27,"x":7,"y":1.45},{"g":"B","s":27,"x":8,"y":1.22},{"g":"B","s":27,"x":9,"y":0.88},{"g":"B","s":27,"x":10,"y":0.70},{"g":"B","s":27,"x":11,"y":0.62},{"g":"B","s":27,"x":12,"y":0.57},{"g":"B","s":27,"x":13,"y":0.57},{"g":"B","s":27,"x":14,"y":0.60},{"g":"B","s":27,"x":15,"y":0.64},{"g":"B","s":27,"x":16,"y":0.67},{"g":"B","s":27,"x":17,"y":0.73},{"g":"B","s":27,"x":18,"y":0.82},{"g":"B","s":27,"x":19,"y":0.90},{"g":"B","s":27,"x":20,"y":0.86},{"g":"B","s":27,"x":21,"y":1.05},
{"g":"B","s":28,"x":1,"y":1.12},{"g":"B","s":28,"x":2,"y":1.65},{"g":"B","s":28,"x":3,"y":1.85},{"g":"B","s":28,"x":4,"y":2.10},{"g":"B","s":28,"x":5,"y":2.25},{"g":"B","s":28,"x":6,"y":2.20},{"g":"B","s":28,"x":7,"y":1.40},{"g":"B","s":28,"x":8,"y":1.18},{"g":"B","s":28,"x":9,"y":0.86},{"g":"B","s":28,"x":10,"y":0.68},{"g":"B","s":28,"x":11,"y":0.60},{"g":"B","s":28,"x":12,"y":0.55},{"g":"B","s":28,"x":13,"y":0.56},{"g":"B","s":28,"x":14,"y":0.59},{"g":"B","s":28,"x":15,"y":0.63},{"g":"B","s":28,"x":16,"y":0.66},{"g":"B","s":28,"x":17,"y":0.71},{"g":"B","s":28,"x":18,"y":0.80},{"g":"B","s":28,"x":19,"y":0.88},{"g":"B","s":28,"x":20,"y":0.84},{"g":"B","s":28,"x":21,"y":1.02},
{"g":"B","s":29,"x":1,"y":1.13},{"g":"B","s":29,"x":2,"y":1.60},{"g":"B","s":29,"x":3,"y":1.80},{"g":"B","s":29,"x":4,"y":2.00},{"g":"B","s":29,"x":5,"y":2.10},{"g":"B","s":29,"x":6,"y":2.00},{"g":"B","s":29,"x":7,"y":1.35},{"g":"B","s":29,"x":8,"y":1.10},{"g":"B","s":29,"x":9,"y":0.84},{"g":"B","s":29,"x":10,"y":0.66},{"g":"B","s":29,"x":11,"y":0.58},{"g":"B","s":29,"x":12,"y":0.53},{"g":"B","s":29,"x":13,"y":0.54},{"g":"B","s":29,"x":14,"y":0.58},{"g":"B","s":29,"x":15,"y":0.61},{"g":"B","s":29,"x":16,"y":0.64},{"g":"B","s":29,"x":17,"y":0.70},{"g":"B","s":29,"x":18,"y":0.78},{"g":"B","s":29,"x":19,"y":0.85},{"g":"B","s":29,"x":20,"y":0.82},{"g":"B","s":29,"x":21,"y":0.98},
{"g":"B","s":30,"x":1,"y":1.10},{"g":"B","s":30,"x":2,"y":1.58},{"g":"B","s":30,"x":3,"y":1.55},{"g":"B","s":30,"x":4,"y":1.50},{"g":"B","s":30,"x":5,"y":1.42},{"g":"B","s":30,"x":6,"y":1.20},{"g":"B","s":30,"x":7,"y":0.92},{"g":"B","s":30,"x":8,"y":0.78},{"g":"B","s":30,"x":9,"y":0.70},{"g":"B","s":30,"x":10,"y":0.64},{"g":"B","s":30,"x":11,"y":0.58},{"g":"B","s":30,"x":12,"y":0.52},{"g":"B","s":30,"x":13,"y":0.52},{"g":"B","s":30,"x":14,"y":0.56},{"g":"B","s":30,"x":15,"y":0.60},{"g":"B","s":30,"x":16,"y":0.63},{"g":"B","s":30,"x":17,"y":0.68},{"g":"B","s":30,"x":18,"y":0.75},{"g":"B","s":30,"x":19,"y":0.82},{"g":"B","s":30,"x":20,"y":0.78},{"g":"B","s":30,"x":21,"y":0.92},
{"g":"B","s":31,"x":1,"y":1.12},{"g":"B","s":31,"x":2,"y":1.62},{"g":"B","s":31,"x":3,"y":1.70},{"g":"B","s":31,"x":4,"y":1.85},{"g":"B","s":31,"x":5,"y":2.05},{"g":"B","s":31,"x":6,"y":1.65},{"g":"B","s":31,"x":7,"y":0.80},{"g":"B","s":31,"x":8,"y":0.52},{"g":"B","s":31,"x":9,"y":0.48},{"g":"B","s":31,"x":10,"y":0.48},{"g":"B","s":31,"x":11,"y":0.50},{"g":"B","s":31,"x":12,"y":0.50},{"g":"B","s":31,"x":13,"y":0.53},{"g":"B","s":31,"x":14,"y":0.57},{"g":"B","s":31,"x":15,"y":0.62},{"g":"B","s":31,"x":16,"y":0.66},{"g":"B","s":31,"x":17,"y":0.72},{"g":"B","s":31,"x":18,"y":0.80},{"g":"B","s":31,"x":19,"y":0.87},{"g":"B","s":31,"x":20,"y":0.76},{"g":"B","s":31,"x":21,"y":0.88},
{"g":"B","s":32,"x":1,"y":1.14},{"g":"B","s":32,"x":2,"y":1.78},{"g":"B","s":32,"x":3,"y":1.95},{"g":"B","s":32,"x":4,"y":2.25},{"g":"B","s":32,"x":5,"y":2.95},{"g":"B","s":32,"x":6,"y":2.55},{"g":"B","s":32,"x":7,"y":1.62},{"g":"B","s":32,"x":8,"y":1.33},{"g":"B","s":32,"x":9,"y":0.98},{"g":"B","s":32,"x":10,"y":0.80},{"g":"B","s":32,"x":11,"y":0.71},{"g":"B","s":32,"x":12,"y":0.63},{"g":"B","s":32,"x":13,"y":0.61},{"g":"B","s":32,"x":14,"y":0.64},{"g":"B","s":32,"x":15,"y":0.66},{"g":"B","s":32,"x":16,"y":0.70},{"g":"B","s":32,"x":17,"y":0.77},{"g":"B","s":32,"x":18,"y":0.86},{"g":"B","s":32,"x":19,"y":0.95},{"g":"B","s":32,"x":20,"y":0.91},{"g":"B","s":32,"x":21,"y":1.15},
{"g":"B","s":33,"x":1,"y":1.11},{"g":"B","s":33,"x":2,"y":1.55},{"g":"B","s":33,"x":3,"y":1.65},{"g":"B","s":33,"x":4,"y":1.90},{"g":"B","s":33,"x":5,"y":2.15},{"g":"B","s":33,"x":6,"y":1.80},{"g":"B","s":33,"x":7,"y":1.05},{"g":"B","s":33,"x":8,"y":0.85},{"g":"B","s":33,"x":9,"y":0.62},{"g":"B","s":33,"x":10,"y":0.55},{"g":"B","s":33,"x":11,"y":0.53},{"g":"B","s":33,"x":12,"y":0.49},{"g":"B","s":33,"x":13,"y":0.51},{"g":"B","s":33,"x":14,"y":0.55},{"g":"B","s":33,"x":15,"y":0.60},{"g":"B","s":33,"x":16,"y":0.64},{"g":"B","s":33,"x":17,"y":0.69},{"g":"B","s":33,"x":18,"y":0.78},{"g":"B","s":33,"x":19,"y":0.84},{"g":"B","s":33,"x":20,"y":0.80},{"g":"B","s":33,"x":21,"y":0.95}
]
},
"vconcat":[
{
 "title":{"text":"(a)","anchor":"start","frame":"bounds","dx":-8,"dy":22},
 "width":504,"height":382,
 "data":{"name":"a"},
 "resolve":{"axis":{"x":"independent","y":"independent"}},
 "layer":[
  {"transform":[{"filter":"datum.g==='I'"}],"mark":{"type":"line","strokeWidth":1.1},
   "encoding":{
    "x":{"field":"x","type":"quantitative","scale":{"domain":[0,21.85],"nice":false,"zero":false},"axis":{"values":[3,6,9,12,15,18,21],"format":"02d","title":"lead time [h]","tickSize":-5,"labelPadding":13,"titlePadding":14,"grid":true}},
    "y":{"field":"y","type":"quantitative","scale":{"type":"log","domain":[0.3,5],"nice":false},"axis":{"values":[0.3,0.4,0.5,0.6,0.7,0.8,0.9,1,2,3,4,5],"labelExpr":"(datum.value==0.3||datum.value==0.5||datum.value==1||datum.value==2||datum.value==5) ? format(datum.value,'.1f') : ''","title":"FBI","titlePadding":18,"labelPadding":14,"tickSize":{"condition":{"test":"datum.value==0.3||datum.value==0.5||datum.value==1||datum.value==2||datum.value==5","value":-5},"value":-3},"grid":true,"gridColor":{"condition":{"test":"datum.value==0.5||datum.value==2","value":"#666"},"value":"transparent"}}},
    "color":{"field":"g","type":"nominal","scale":{"domain":["D","I","B"],"range":["#3355bb","#1a1a1a","#ee1c25"]},
     "legend":{"title":null,"labelExpr":"datum.label=='D'?'DE':datum.label=='I'?'IBP':'BP'",
      "encode":{"symbols":{"update":{
       "shape":{"signal":"datum.value==='D' ? 'M-1,0A0.5,0.5 0 1,0 0,0A0.5,0.5 0 1,0 -1,0ZM0,0H2M2,0A0.5,0.5 0 1,0 3,0A0.5,0.5 0 1,0 2,0Z' : 'M-0.5,0H2.5'"},
       "fill":{"signal":"datum.value==='D' ? '#3b5ba5' : 'transparent'"},
       "stroke":{"signal":"datum.value==='D' ? '#1b2a5a' : datum.value==='I' ? '#1a1a1a' : '#ee1c25'"},
       "strokeWidth":{"value":1.3},"opacity":{"value":1},"fillOpacity":{"value":1}}}}}},
    "detail":{"field":"s"}}},
  {"transform":[{"filter":"datum.g==='B'"}],"mark":{"type":"line","strokeWidth":1.1},
   "encoding":{"x":{"field":"x","type":"quantitative","axis":null},"y":{"field":"y","type":"quantitative","axis":null},"color":{"field":"g","type":"nominal"},"detail":{"field":"s"}}},
  {"data":{"values":[{}]},"mark":{"type":"rule","stroke":"black","strokeWidth":1.2,"strokeDash":[7,3,2,3]},"encoding":{"y":{"datum":1,"axis":null}}},
  {"transform":[{"filter":"datum.g==='D'"}],"mark":{"type":"line","strokeWidth":1.4},
   "encoding":{"x":{"field":"x","type":"quantitative","axis":null},"y":{"field":"y","type":"quantitative","axis":null},"color":{"field":"g","type":"nominal"}}},
  {"transform":[{"filter":"datum.g==='D'"}],"mark":{"type":"point","filled":true,"fill":"#3b5ba5","stroke":"#1b2a5a","strokeWidth":1,"size":95,"opacity":1},
   "encoding":{"x":{"field":"x","type":"quantitative","axis":null},"y":{"field":"y","type":"quantitative","axis":null}}},
  {"data":{"values":[{}]},"mark":{"type":"text","align":"left","baseline":"middle","fontSize":20,"color":"#222","font":"DejaVu Sans"},
   "encoding":{
    "x":{"datum":2.04,"axis":{"orient":"top","labels":false,"title":null,"grid":false,"values":[3,6,9,12,15,18,21],"tickSize":-5}},
    "y":{"datum":4.22,"axis":{"orient":"right","labels":false,"title":null,"grid":false,"values":[0.3,0.4,0.5,0.6,0.7,0.8,0.9,1,2,3,4,5],"tickSize":{"condition":{"test":"datum.value==0.3||datum.value==0.5||datum.value==1||datum.value==2||datum.value==5","value":-5},"value":-3}}},
    "text":{"value":"Init:06 UTC, ℒ = 1.0 mm h⁻¹, STRG"}}}
 ]
},
{
 "title":{"text":"(b)","anchor":"start","frame":"bounds","dx":-8,"dy":22},
 "width":504,"height":382,
 "data":{"name":"b"},
 "resolve":{"axis":{"x":"independent","y":"independent"}},
 "layer":[
  {"transform":[{"filter":"datum.g==='I'"}],"mark":{"type":"line","strokeWidth":1.1},
   "encoding":{
    "x":{"field":"x","type":"quantitative","scale":{"domain":[0,21.85],"nice":false,"zero":false},"axis":{"values":[3,6,9,12,15,18,21],"format":"02d","title":"lead time [h]","tickSize":-5,"labelPadding":13,"titlePadding":14,"grid":true}},
    "y":{"field":"y","type":"quantitative","scale":{"type":"log","domain":[0.3,5],"nice":false},"axis":{"values":[0.3,0.4,0.5,0.6,0.7,0.8,0.9,1,2,3,4,5],"labelExpr":"(datum.value==0.3||datum.value==0.5||datum.value==1||datum.value==2||datum.value==5) ? format(datum.value,'.1f') : ''","title":"FBI","titlePadding":18,"labelPadding":14,"tickSize":{"condition":{"test":"datum.value==0.3||datum.value==0.5||datum.value==1||datum.value==2||datum.value==5","value":-5},"value":-3},"grid":true,"gridColor":{"condition":{"test":"datum.value==0.5||datum.value==2","value":"#666"},"value":"transparent"}}},
    "color":{"field":"g","type":"nominal","scale":{"domain":["D","I","B"],"range":["#3355bb","#1a1a1a","#ee1c25"]},
     "legend":{"title":null,"labelExpr":"datum.label=='D'?'DE':datum.label=='I'?'IBP':'BP'",
      "encode":{"symbols":{"update":{
       "shape":{"signal":"datum.value==='D' ? 'M-1,0A0.5,0.5 0 1,0 0,0A0.5,0.5 0 1,0 -1,0ZM0,0H2M2,0A0.5,0.5 0 1,0 3,0A0.5,0.5 0 1,0 2,0Z' : 'M-0.5,0H2.5'"},
       "fill":{"signal":"datum.value==='D' ? '#3b5ba5' : 'transparent'"},
       "stroke":{"signal":"datum.value==='D' ? '#1b2a5a' : datum.value==='I' ? '#1a1a1a' : '#ee1c25'"},
       "strokeWidth":{"value":1.3},"opacity":{"value":1},"fillOpacity":{"value":1}}}}}},
    "detail":{"field":"s"}}},
  {"transform":[{"filter":"datum.g==='B'"}],"mark":{"type":"line","strokeWidth":1.1},
   "encoding":{"x":{"field":"x","type":"quantitative","axis":null},"y":{"field":"y","type":"quantitative","axis":null},"color":{"field":"g","type":"nominal"},"detail":{"field":"s"}}},
  {"data":{"values":[{}]},"mark":{"type":"rule","stroke":"black","strokeWidth":1.2,"strokeDash":[7,3,2,3]},"encoding":{"y":{"datum":1,"axis":null}}},
  {"transform":[{"filter":"datum.g==='D'"}],"mark":{"type":"line","strokeWidth":1.4},
   "encoding":{"x":{"field":"x","type":"quantitative","axis":null},"y":{"field":"y","type":"quantitative","axis":null},"color":{"field":"g","type":"nominal"}}},
  {"transform":[{"filter":"datum.g==='D'"}],"mark":{"type":"point","filled":true,"fill":"#3b5ba5","stroke":"#1b2a5a","strokeWidth":1,"size":95,"opacity":1},
   "encoding":{"x":{"field":"x","type":"quantitative","axis":null},"y":{"field":"y","type":"quantitative","axis":null}}},
  {"data":{"values":[{}]},"mark":{"type":"text","align":"left","baseline":"middle","fontSize":20,"color":"#222","font":"DejaVu Sans"},
   "encoding":{
    "x":{"datum":2.04,"axis":{"orient":"top","labels":false,"title":null,"grid":false,"values":[3,6,9,12,15,18,21],"tickSize":-5}},
    "y":{"datum":4.22,"axis":{"orient":"right","labels":false,"title":null,"grid":false,"values":[0.3,0.4,0.5,0.6,0.7,0.8,0.9,1,2,3,4,5],"tickSize":{"condition":{"test":"datum.value==0.3||datum.value==0.5||datum.value==1||datum.value==2||datum.value==5","value":-5},"value":-3}}},
    "text":{"value":"Init:06 UTC, ℒ = 1.0 mm h⁻¹, WEAK"}}}
 ]
}
]
}
